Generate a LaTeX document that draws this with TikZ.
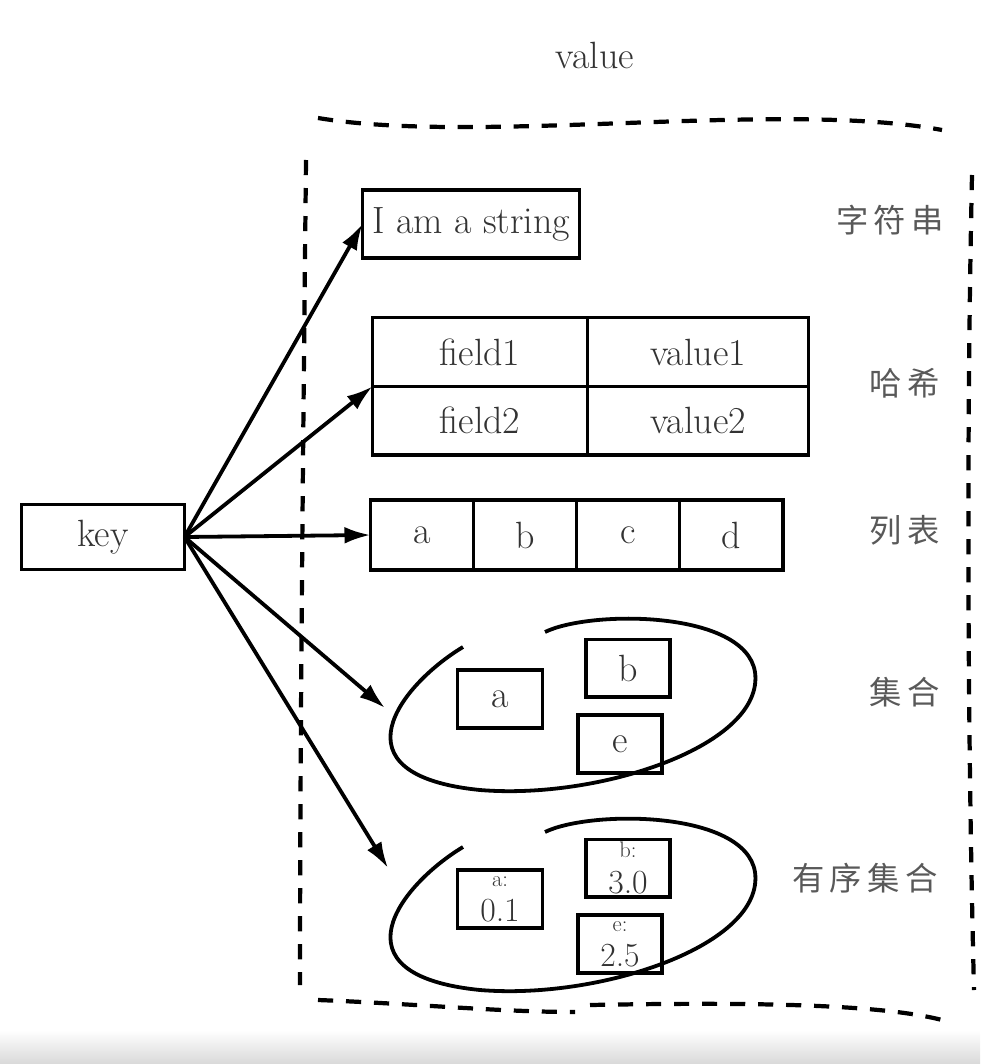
\documentclass[tikz,border=0pt]{standalone}
\usepackage{fontspec}
\newfontfamily\cjk{Noto Sans CJK SC}
\usetikzlibrary{arrows.meta}
\usetikzlibrary{positioning}

\begin{document}
\begin{tikzpicture}[x=0.025cm, y=-0.025cm, line width=2.7pt,
	box/.style={draw, rectangle, inner sep=0pt, outer sep=0pt, text=black!80,
	font=\fontsize{27}{22}\selectfont, align=center},
	score/.style={box, font=\fontsize{24}{25}\selectfont},
	tag/.style={text=black!65, font=\cjk\fontsize{23}{26}\selectfont},
	arr/.style={-{Latex[length=0.65cm, width=0.42cm]}},
	frame/.style={dash pattern=on 0.38cm off 0.32cm, line width=3pt}]
\useasboundingbox (0,0) rectangle (980,1064);
\fill[top color=white, bottom color=black!15, draw=none] (0,1030) rectangle (980,1064);

\node[text=black!80, font=\fontsize{27}{28}\selectfont] (val) at (595,55) {value};

\draw[frame] (318,118) .. controls (480,145) and (780,100) .. (942,130);
\draw[frame] (306,160) .. controls (303,450) and (300,750) .. (300,985);
\draw[frame] (972,175) .. controls (966,450) and (968,750) .. (974,990);
\draw[frame] (318,1000) .. controls (420,1004) and (500,1012) .. (575,1012);
\draw[frame] (590,1005) .. controls (750,1002) and (880,1004) .. (942,1020);

\node[box, minimum width=4.075cm, minimum height=1.625cm] (k) at (103,537) {key};

\node[box, minimum width=5.425cm, minimum height=1.7cm] (s) at (471,224) {I am a string};

\node[box, minimum width=5.375cm, minimum height=1.72cm] (f1) at (480,352) {field1};
\node[box, minimum width=5.525cm, minimum height=1.72cm, right=0pt of f1] (v1) {value1};
\node[box, minimum width=5.375cm, minimum height=1.72cm, below=0pt of f1] (f2) {field2};
\node[box, minimum width=5.525cm, minimum height=1.72cm, right=0pt of f2] (v2) {value2};

\node[box, minimum width=2.575cm, minimum height=1.75cm] (la) at (422,535) {a};
\node[box, minimum width=2.575cm, minimum height=1.75cm, right=0pt of la] (lb) {b};
\node[box, minimum width=2.575cm, minimum height=1.75cm, right=0pt of lb] (lc) {c};
\node[box, minimum width=2.575cm, minimum height=1.75cm, right=0pt of lc] (ld) {d};

\foreach \dy in {0,200}
  \draw[shift={(0,\dy)}] (463,647) .. controls (400,685) and (330,775) .. (480,790)
    .. controls (600,800) and (765,745) .. (755,672)
    .. controls (745,610) and (590,610) .. (545,632);

\node[box, minimum width=2.125cm, minimum height=1.45cm] (sa) at (500,699) {a};
\node[box, minimum width=2.1cm, minimum height=1.43cm] (sb) at (628,668) {b};
\node[box, minimum width=2.1cm, minimum height=1.45cm] (se) at (620,744) {e};

\node[score, minimum width=2.125cm, minimum height=1.45cm] (za) at (500,899) {{\fontsize{16}{16}\selectfont a:}\\0.1};
\node[score, minimum width=2.1cm, minimum height=1.43cm] (zb) at (628,868) {{\fontsize{16}{16}\selectfont b:}\\3.0};
\node[score, minimum width=2.1cm, minimum height=1.45cm] (ze) at (620,944) {{\fontsize{16}{16}\selectfont e:}\\2.5};

\coordinate (pS) at (385,708);
\coordinate (pZ) at (388,868);

\draw[arr] (k.east) -- (s.west);
\draw[arr] (k.east) -- (f1.south west);
\draw[arr] (k.east) -- (la.west);
\draw[arr] (k.east) -- (pS);
\draw[arr] (k.east) -- (pZ);

\node[tag] (t1) at (890,220) {字\,符\,串};
\node[tag] (t2) at (905,383) {哈\,希};
\node[tag] (t3) at (905,530) {列\,表};
\node[tag] (t4) at (905,692) {集\,合};
\node[tag] (t5) at (865,878) {有\,序\,集\,合};
\end{tikzpicture}
\end{document}
